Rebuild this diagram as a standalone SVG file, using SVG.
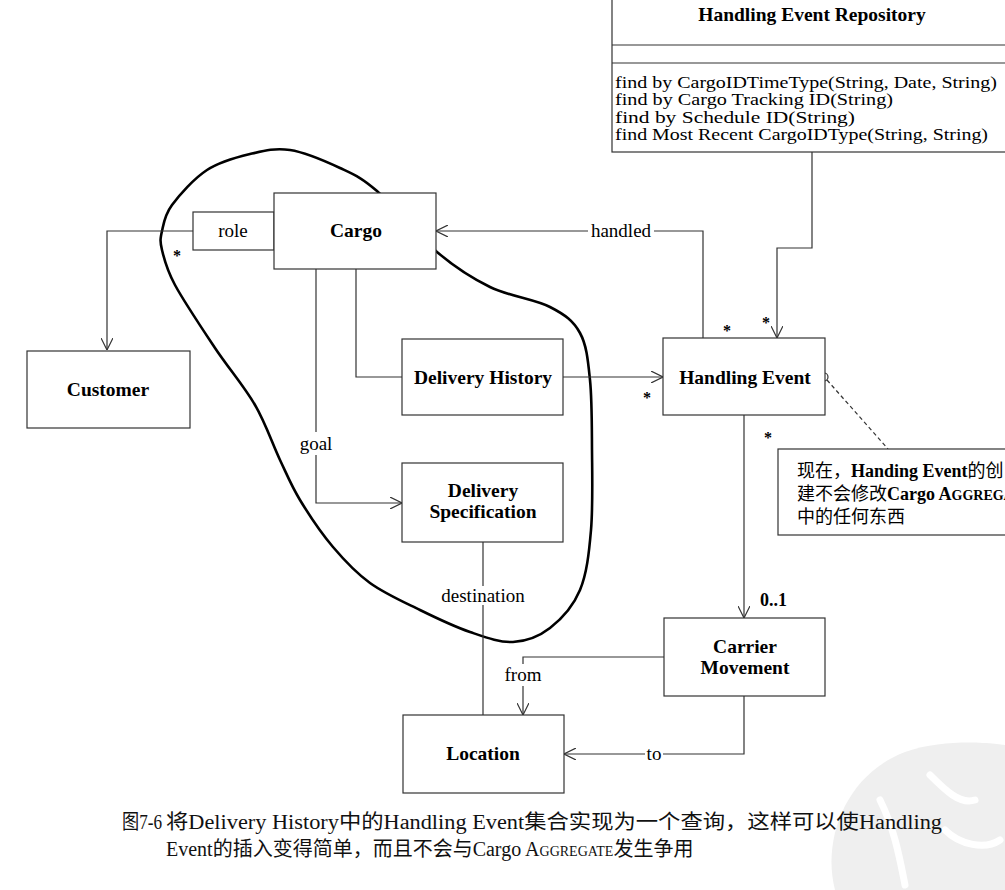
<svg xmlns="http://www.w3.org/2000/svg" width="1005" height="890" viewBox="0 0 1005 890">
<style>
.box{fill:#fff;stroke:#333;stroke-width:1.2}
.ln{fill:none;stroke:#333;stroke-width:1.2}
.arr{fill:none;stroke:#333;stroke-width:1.2;marker-end:url(#oa)}
.blob{fill:none;stroke:#000;stroke-width:2.6}
.t{font-family:"Liberation Serif","Noto Sans CJK SC",serif;fill:#000}
.b{font-weight:bold;font-size:19.5px;text-anchor:middle}
.r{font-size:19px;text-anchor:middle}
.m{font-size:16.5px}
.st{font-family:"Liberation Serif",serif;font-weight:bold;font-size:16px;text-anchor:middle}
.cap{font-family:"Liberation Serif","Noto Sans CJK SC",serif;font-size:20px;fill:#111}
</style>
<defs>
<marker id="oa" viewBox="0 0 12 12" refX="12" refY="6" markerWidth="12" markerHeight="12" markerUnits="userSpaceOnUse" orient="auto">
<path d="M0,0 L12,6 L0,12" fill="none" stroke="#333" stroke-width="1.2"/>
</marker>
</defs>
<rect width="1005" height="890" fill="#fff"/>
<g id="watermark">
<path d="M835,890 C822,840 845,775 905,752 C950,736 1005,745 1005,745 L1005,890 Z" fill="#efefef"/>
<path d="M880,800 C895,830 900,860 905,885 M930,775 C945,790 960,805 975,800 M945,830 C960,845 985,850 1000,840" fill="none" stroke="#fff" stroke-width="7" stroke-linecap="round"/>
</g>
<g id="aggregate-boundary">
<path class="blob" d="M162,231 C163.7,223.5 164.5,215.2 172,205 C179.5,194.8 194,178.5 207,170 C220,161.5 236.2,157.3 250,154 C263.8,150.7 275,147.7 290,150 C305,152.3 325.5,161.2 340,168 C354.5,174.8 360.8,177 377,191 C393.2,205 418.2,236 437,252 C455.8,268 471.2,277.8 490,287 C508.8,296.2 535,299.3 550,307 C565,314.7 573.3,320.8 580,333 C586.7,345.2 588,360.5 590,380 C592,399.5 591.8,425 592,450 C592.2,475 593,506.7 591,530 C589,553.3 586.8,573.7 580,590 C573.2,606.3 561.2,619.3 550,628 C538.8,636.7 526.3,641.3 513,642 C499.7,642.7 485.5,637.3 470,632 C454.5,626.7 436.7,618.2 420,610 C403.3,601.8 384.5,593.5 370,583 C355.5,572.5 344.7,560.8 333,547 C321.3,533.2 308.8,514.5 300,500 C291.2,485.5 287.5,475.8 280,460 C272.5,444.2 265.8,423.7 255,405 C244.2,386.3 228.3,368 215,348 C201.7,328 183.8,301.3 175,285 C166.2,268.7 164.2,259 162,250 C159.8,241 160.3,238.5 162,231 Z"/>
</g>
<g id="connectors">
<path class="arr" d="M193,231 H107 V350"/>
<path class="ln" d="M356,269 V377 H402"/>
<path class="ln" d="M316,269 V432"/>
<path class="arr" d="M316,455 V503 H402"/>
<path class="arr" d="M563,377 H663"/>
<path class="ln" d="M703,338 V231 H654"/>
<path class="arr" d="M588,231 H436"/>
<path class="arr" d="M812,152 V248 H777 V338"/>
<path class="arr" d="M744,415 V618"/>
<path class="ln" d="M483,542 V586"/>
<path class="ln" d="M483,605 V715"/>
<path class="ln" d="M664,657 H523 V664"/>
<path class="arr" d="M523,686 V715"/>
<path class="ln" d="M744,696 V754 H663"/>
<path class="arr" d="M645,754 H564"/>
<path class="ln" d="M827,380 L888,449" stroke-dasharray="4,3"/>
<circle cx="824" cy="377" r="4" fill="#fff" stroke="#333" stroke-width="1.2"/>
<text class="t r" x="316" y="450">goal</text>
<text class="t r" x="621" y="237">handled</text>
<text class="t r" x="483" y="602">destination</text>
<text class="t r" x="523" y="681">from</text>
<text class="t r" x="654" y="760">to</text>
<text class="st" x="177" y="261">*</text>
<text class="st" x="727" y="336">*</text>
<text class="st" x="766" y="328">*</text>
<text class="st" x="647" y="403">*</text>
<text class="st" x="768" y="443">*</text>
<text class="t" x="760" y="606" font-weight="bold" font-size="18px">0..1</text>
</g>
<g id="repository">
<rect class="box" x="612" y="-2" width="400" height="154"/>
<line class="ln" x1="612" y1="45" x2="1005" y2="45"/>
<line class="ln" x1="612" y1="63" x2="1005" y2="63"/>
<text class="t b" x="812" y="21">Handling Event Repository</text>
<text class="t m" x="615" y="87.5" textLength="382" lengthAdjust="spacingAndGlyphs">find by CargoIDTimeType(String, Date, String)</text>
<text class="t m" x="615" y="105" textLength="278" lengthAdjust="spacingAndGlyphs">find by Cargo Tracking ID(String)</text>
<text class="t m" x="615" y="122.5" textLength="240" lengthAdjust="spacingAndGlyphs">find by Schedule ID(String)</text>
<text class="t m" x="615" y="140" textLength="373" lengthAdjust="spacingAndGlyphs">find Most Recent CargoIDType(String, String)</text>
</g>
<g id="role">
<rect class="box" x="193" y="212" width="81" height="38"/>
<text class="t r" x="233" y="237">role</text>
</g>
<g id="cargo">
<rect class="box" x="274" y="193" width="162" height="76"/>
<text class="t b" x="356" y="237">Cargo</text>
</g>
<g id="customer">
<rect class="box" x="27" y="351" width="163" height="77"/>
<text class="t b" x="108" y="396">Customer</text>
</g>
<g id="delivery-history">
<rect class="box" x="402" y="339" width="161" height="76"/>
<text class="t b" x="483" y="384">Delivery History</text>
</g>
<g id="delivery-specification">
<rect class="box" x="402" y="463" width="161" height="79"/>
<text class="t b" x="483" y="497">Delivery</text>
<text class="t b" x="483" y="518">Specification</text>
</g>
<g id="handling-event">
<rect class="box" x="663" y="338" width="162" height="77"/>
<text class="t b" x="745" y="384">Handling Event</text>
</g>
<g id="carrier-movement">
<rect class="box" x="664" y="618" width="161" height="78"/>
<text class="t b" x="745" y="653">Carrier</text>
<text class="t b" x="745" y="674">Movement</text>
</g>
<g id="location">
<rect class="box" x="403" y="715" width="161" height="78"/>
<text class="t b" x="483" y="760">Location</text>
</g>
<g id="note">
<rect class="box" x="778" y="449" width="240" height="86"/>
<text class="t" x="797" y="477" font-size="18px">现在，<tspan font-weight="bold">Handing Event</tspan>的创</text>
<text class="t" x="797" y="500" font-size="18px">建不会修改<tspan font-weight="bold">Cargo A<tspan font-size="14px">GGREGATE</tspan></tspan></text>
<text class="t" x="797" y="523" font-size="18px">中的任何东西</text>
</g>
<g id="caption">
<text class="cap" x="122" y="829" font-size="17px" textLength="40" lengthAdjust="spacingAndGlyphs">图7-6</text>
<text class="cap" x="166" y="829" textLength="776" lengthAdjust="spacingAndGlyphs">将Delivery History中的Handling Event集合实现为一个查询，这样可以使Handling</text>
<text class="cap" x="166" y="856" font-size="18px">Event的插入变得简单，而且不会与Cargo A<tspan font-size="14px">GGREGATE</tspan>发生争用</text>
</g>
</svg>
